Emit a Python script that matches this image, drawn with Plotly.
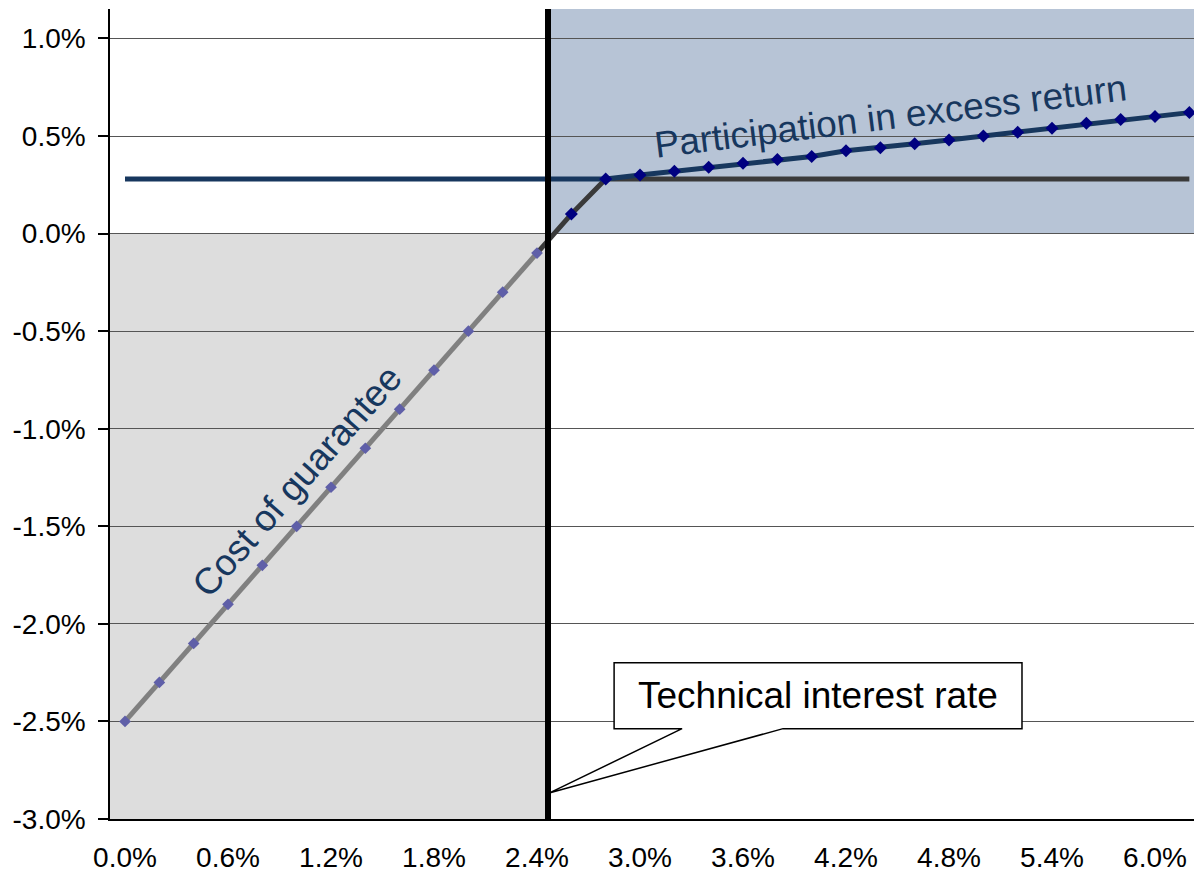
import plotly.graph_objects as go

# Return levels (x axis, in %)
RATES = [0.0, 0.2, 0.4, 0.6, 0.8, 1.0, 1.2, 1.4, 1.6, 1.8, 2.0, 2.2, 2.4, 2.6, 2.8, 3.0,
         3.2, 3.4, 3.6, 3.8, 4.0, 4.2, 4.4, 4.6, 4.8, 5.0, 5.2, 5.4, 5.6, 5.8, 6.0, 6.2]

# Cost of guarantee: rates 0.0% .. 2.4%
COST = [-2.5, -2.3, -2.1, -1.9, -1.7, -1.5, -1.3, -1.1, -0.9, -0.7, -0.5, -0.3, -0.1]

# Guaranteed floor: rates 2.4% .. 6.2%
FLOOR = [-0.1, 0.1, 0.28, 0.28, 0.28, 0.28, 0.28, 0.28, 0.28, 0.28,
         0.28, 0.28, 0.28, 0.28, 0.28, 0.28, 0.28, 0.28, 0.28, 0.28]

# Participation in excess return: all rates
PARTICIPATION = [0.28, 0.28, 0.28, 0.28, 0.28, 0.28, 0.28, 0.28, 0.28, 0.28,
                 0.28, 0.28, 0.28, 0.28, 0.28, 0.30, 0.32, 0.34, 0.36, 0.38,
                 0.395, 0.425, 0.44, 0.46, 0.48, 0.50, 0.52, 0.54, 0.565, 0.585,
                 0.60, 0.62]

TECH_RATE = 2.464
X_TICKS = [0.0, 0.6, 1.2, 1.8, 2.4, 3.0, 3.6, 4.2, 4.8, 5.4, 6.0]
Y_TICKS = [-3.0, -2.5, -2.0, -1.5, -1.0, -0.5, 0.0, 0.5, 1.0]

FONT = "Liberation Sans, Arial, sans-serif"
NAVY = "#17375E"
MARKER_NAVY = "#000080"
MARKER_PURPLE = "#5F5FA8"


def pct(v):
    return f"{v:.1f}%"


cost_x = RATES[:len(COST)]
floor_x = RATES[len(COST) - 1:]
kink = 14  # first point where participation starts to rise (2.8%)
mark_x = [floor_x[1]] + RATES[kink:]
mark_y = [FLOOR[1]] + PARTICIPATION[kink:]

fig = go.Figure()

fig.add_trace(go.Scatter(
    x=floor_x, y=FLOOR, mode="lines",
    line=dict(color="#3A3A3A", width=5), hoverinfo="skip", showlegend=False))

fig.add_trace(go.Scatter(
    x=RATES, y=PARTICIPATION, mode="lines",
    line=dict(color=NAVY, width=5), hoverinfo="skip", showlegend=False))

fig.add_trace(go.Scatter(
    x=cost_x, y=COST, mode="lines+markers",
    line=dict(color="#808080", width=5),
    marker=dict(symbol="diamond", size=9, color=MARKER_PURPLE),
    hoverinfo="skip", showlegend=False))

fig.add_trace(go.Scatter(
    x=mark_x, y=mark_y, mode="markers",
    marker=dict(symbol="diamond", size=10, color=MARKER_NAVY),
    hoverinfo="skip", showlegend=False))

shapes = [
    # shaded cost region
    dict(type="rect", xref="x", yref="y", x0=-1, x1=TECH_RATE, y0=-3.0, y1=0.0,
         fillcolor="#DDDDDD", line=dict(width=0), layer="below"),
    # shaded participation region
    dict(type="rect", xref="x", yref="y", x0=TECH_RATE, x1=7, y0=0.0, y1=2.0,
         fillcolor="#B7C4D6", line=dict(width=0), layer="below"),
    # technical interest rate marker
    dict(type="line", xref="x", yref="paper", x0=TECH_RATE, x1=TECH_RATE, y0=0, y1=1,
         line=dict(color="black", width=6), layer="above"),
]

# callout box with pointer to the technical rate line
bx0, bx1, by0, by1 = 2.849, 5.225, -2.537, -2.199
px0, px1, tip_y = 3.245, 3.833, -2.865
callout = (f"M {bx0},{by1} L {bx1},{by1} L {bx1},{by0} L {px1},{by0} "
           f"L {TECH_RATE + 0.012},{tip_y} L {px0},{by0} L {bx0},{by0} Z")
shapes.append(dict(type="path", xref="x", yref="y", path=callout,
                   fillcolor="white", line=dict(color="black", width=1.5), layer="above"))

fig.update_layout(
    width=1194, height=874,
    margin=dict(l=110, r=0, t=9, b=55),
    paper_bgcolor="white", plot_bgcolor="white",
    font=dict(family=FONT, color="black", size=28),
    shapes=shapes,
    xaxis=dict(
        range=[-0.0874, 6.227], tickvals=X_TICKS, ticktext=[pct(v) for v in X_TICKS],
        showgrid=False, zeroline=False, showline=True, linecolor="black", linewidth=1.5,
        ticks="", ticklabelstandoff=13, tickfont=dict(size=28, family=FONT),
        automargin=False,
    ),
    yaxis=dict(
        range=[-3.0, 1.151], tickvals=Y_TICKS, ticktext=[pct(v) for v in Y_TICKS],
        showgrid=True, gridcolor="#555555", gridwidth=1, zeroline=False,
        showline=True, linecolor="black", linewidth=1.5,
        ticks="outside", ticklen=10, tickcolor="black", tickwidth=1.5,
        ticklabelstandoff=7, tickfont=dict(size=28, family=FONT),
        automargin=False,
    ),
    annotations=[
        dict(text="Technical interest rate", x=(bx0 + bx1) / 2, y=(by0 + by1) / 2,
             xref="x", yref="y", showarrow=False,
             font=dict(size=37, family=FONT, color="black")),
        dict(text="Cost of guarantee", x=1.0, y=-1.27, xref="x", yref="y",
             showarrow=False, textangle=-48.5,
             font=dict(size=37, family=FONT, color=NAVY)),
        dict(text="Participation in excess return", x=4.46, y=0.60, xref="x", yref="y",
             showarrow=False, textangle=-7,
             font=dict(size=37, family=FONT, color=NAVY)),
    ],
)

fig.write_html("out.html")
